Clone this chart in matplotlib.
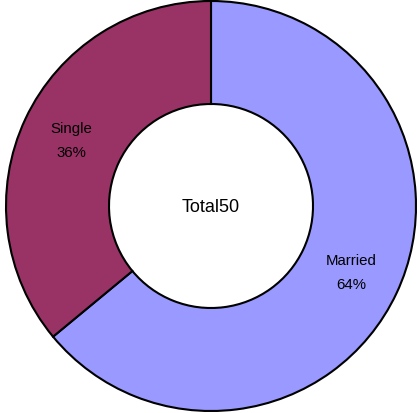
import matplotlib
matplotlib.use("Agg")
import matplotlib.pyplot as plt

categories = ["Married", "Single"]
values = [32, 18]
colors = ["#9999FF", "#993366"]
total = sum(values)

plt.rcParams['font.family'] = ['Liberation Sans', 'DejaVu Sans']

fig = plt.figure(figsize=(4.17, 4.14), dpi=100)
ax = fig.add_axes([0, 0, 1, 1])

labels = [f"{c}\n{round(100 * v / total)}%" for c, v in zip(categories, values)]
wedges, texts = ax.pie(values, colors=colors, startangle=90, counterclock=False,
                       radius=205, center=(211, 207), labels=labels, labeldistance=0.755,
                       wedgeprops=dict(width=103, edgecolor='black', linewidth=1.5),
                       textprops=dict(fontsize=10.8, ha='center', va='center', linespacing=1.95),
                       frame=True)
for t in texts:
    t.set_horizontalalignment('center')
ax.set_xlim(0, 417)
ax.set_ylim(0, 414)
ax.set_aspect('equal')
ax.axis('off')
ax.text(211, 207, f"Total{total}", ha='center', va='center', fontsize=13)

fig.savefig("out.png", dpi=100)
